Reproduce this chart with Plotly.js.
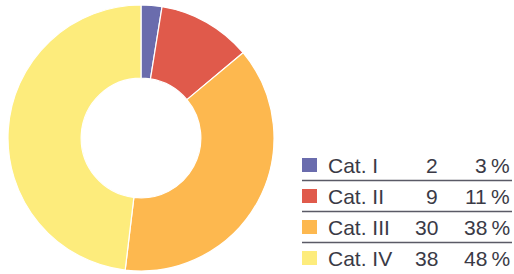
<!DOCTYPE html>
<html>
<head>
<meta charset="utf-8">
<script src="https://cdn.plot.ly/plotly-3.0.1.min.js"></script>
<style>html,body{margin:0;padding:0;background:#fff;}#chart{width:514px;height:274px;}</style>
</head>
<body>
<div id="chart"></div>
<script>
const categories = ["Cat. I", "Cat. II", "Cat. III", "Cat. IV"];
const counts = [2, 9, 30, 38];
const percentLabels = ["3\u2009%", "11\u2009%", "38\u2009%", "48\u2009%"];
const colors = ["#6a6cad", "#e05a4b", "#fdb84f", "#fdec7c"];

const W = 514, H = 274;
const px = x => x / W;
const py = y => 1 - y / H;

// donut geometry (pixels)
const cx = 141, cy = 138, r = 133;

const trace = {
  type: "pie",
  labels: categories,
  values: counts,
  marker: {colors: colors, line: {color: "#ffffff", width: 1.2}},
  hole: 0.45,
  sort: false,
  direction: "clockwise",
  rotation: 0,
  textinfo: "none",
  hoverinfo: "label+value+percent",
  showlegend: false,
  domain: {
    x: [px(cx - r), px(cx + r)],
    y: [py(cy + r), py(cy - r)]
  }
};

// table legend
const rowTop = 165, rowStep = 31;
const textColor = "#3a3a46";
const fontFam = "Liberation Sans, Arial, sans-serif";
const annotations = [];
const shapes = [];
categories.forEach((c, i) => {
  const yc = rowTop + i * rowStep;
  shapes.push({
    type: "rect", xref: "paper", yref: "paper",
    x0: px(302), x1: px(317), y0: py(yc - 7), y1: py(yc + 7),
    fillcolor: colors[i], line: {width: 0}
  });
  annotations.push({
    xref: "paper", yref: "paper", x: px(326), y: py(yc),
    xanchor: "left", yanchor: "middle", showarrow: false,
    text: c, font: {family: fontFam, size: 21, color: textColor}
  });
  annotations.push({
    xref: "paper", yref: "paper", x: px(440), y: py(yc),
    xanchor: "right", yanchor: "middle", showarrow: false,
    text: String(counts[i]), font: {family: fontFam, size: 21, color: textColor}
  });
  annotations.push({
    xref: "paper", yref: "paper", x: px(512), y: py(yc),
    xanchor: "right", yanchor: "middle", showarrow: false,
    text: percentLabels[i], font: {family: fontFam, size: 21, color: textColor}
  });
  if (i < categories.length - 1) {
    const yl = yc + 15.5;
    shapes.push({
      type: "line", xref: "paper", yref: "paper",
      x0: px(302), x1: px(512), y0: py(yl), y1: py(yl),
      line: {color: "#5a5a66", width: 1.5}
    });
  }
});

const layout = {
  width: W, height: H,
  margin: {l: 0, r: 0, t: 0, b: 0},
  paper_bgcolor: "#ffffff",
  plot_bgcolor: "#ffffff",
  showlegend: false,
  annotations: annotations,
  shapes: shapes
};

Plotly.newPlot("chart", [trace], layout, {displayModeBar: false, staticPlot: true});
</script>
</body>
</html>
